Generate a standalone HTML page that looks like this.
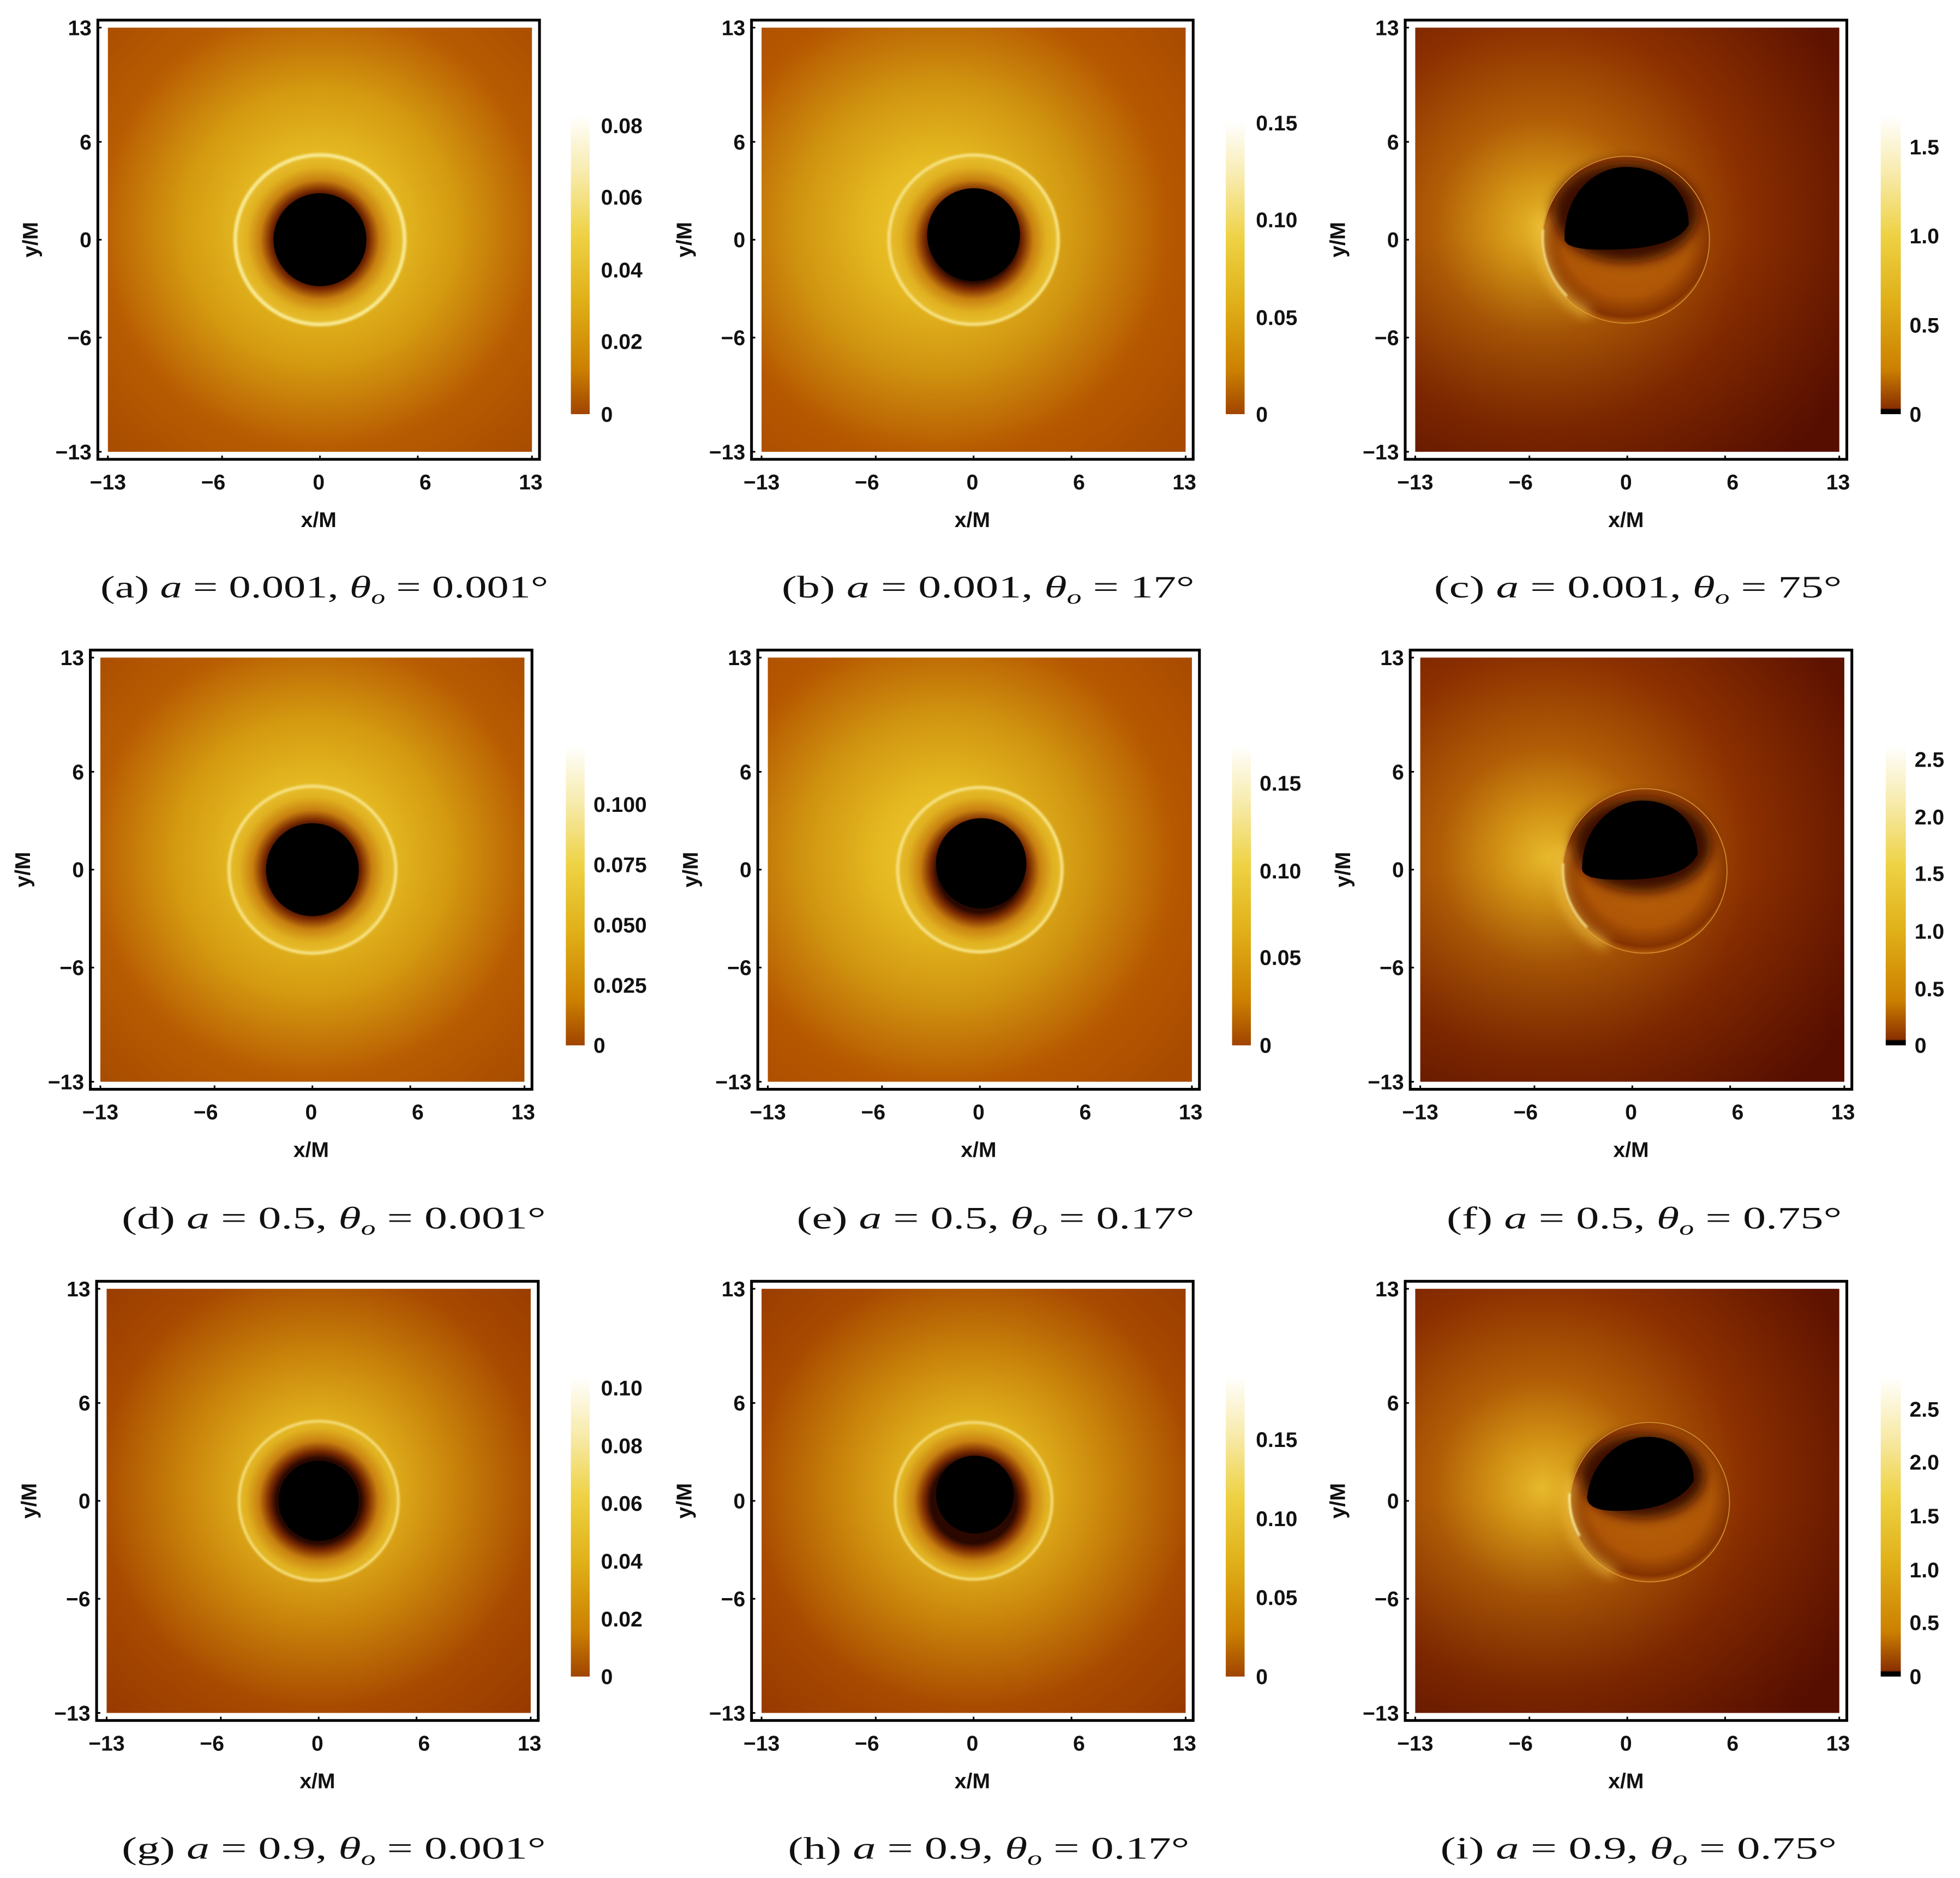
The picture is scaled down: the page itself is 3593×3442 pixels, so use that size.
<!DOCTYPE html>
<html><head><meta charset="utf-8"><style>
html,body{margin:0;padding:0;background:#fff;}
svg{display:block;}
.t{font-family:"Liberation Sans",sans-serif;font-weight:bold;font-size:17px;fill:#111;}
.c{font-family:"Liberation Serif",serif;font-size:25px;fill:#111;}
</style></head><body>
<svg width="3593" height="3442" viewBox="0 0 1562.2 1496.5" xmlns="http://www.w3.org/2000/svg">
<defs>
<radialGradient id="bgA" cx="0.5" cy="0.47" r="0.72">
<stop offset="0" stop-color="#f0c830"/><stop offset="0.22" stop-color="#e6bc24"/><stop offset="0.45" stop-color="#d49a10"/><stop offset="0.72" stop-color="#b85c02"/><stop offset="1" stop-color="#a84c00"/></radialGradient>
<radialGradient id="bgG" cx="0.5" cy="0.47" r="0.72">
<stop offset="0" stop-color="#ecc028"/><stop offset="0.2" stop-color="#e2b41e"/><stop offset="0.45" stop-color="#c8820a"/><stop offset="0.72" stop-color="#a84a00"/><stop offset="1" stop-color="#983a00"/></radialGradient>
<radialGradient id="bgB" cx="0.42" cy="0.47" r="0.75">
<stop offset="0" stop-color="#f0c830"/><stop offset="0.22" stop-color="#e4b820"/><stop offset="0.45" stop-color="#d09410"/><stop offset="0.72" stop-color="#b65800"/><stop offset="1" stop-color="#a84a00"/></radialGradient>
<radialGradient id="inA" gradientUnits="userSpaceOnUse" cx="0" cy="0" r="68">
<stop offset="0.5" stop-color="#2a0800"/><stop offset="0.58" stop-color="#7a2a00"/><stop offset="0.7" stop-color="#c88010"/><stop offset="0.85" stop-color="#e0b020"/><stop offset="1" stop-color="#e8c030"/></radialGradient>
<radialGradient id="bgD" cx="0.3" cy="0.47" r="0.8">
<stop offset="0" stop-color="#eabc2c"/><stop offset="0.14" stop-color="#d49414"/><stop offset="0.32" stop-color="#b25e06"/><stop offset="0.6" stop-color="#8c3000"/><stop offset="1" stop-color="#5e1200"/></radialGradient>
<linearGradient id="shade" x1="0" y1="0" x2="0" y2="1">
<stop offset="0" stop-color="#3a0000" stop-opacity="0"/><stop offset="0.5" stop-color="#3a0000" stop-opacity="0.02"/><stop offset="1" stop-color="#3a0000" stop-opacity="0.25"/></linearGradient>
<radialGradient id="disc" cx="0.5" cy="0.45" r="0.55">
<stop offset="0" stop-color="#bc6408"/><stop offset="0.7" stop-color="#ae5606"/><stop offset="0.92" stop-color="#843200"/><stop offset="1" stop-color="#b45c08"/></radialGradient>
<linearGradient id="cb" x1="0" y1="1" x2="0" y2="0">
<stop offset="0" stop-color="#a04400"/><stop offset="0.15" stop-color="#cc8000"/><stop offset="0.38" stop-color="#e0b018"/><stop offset="0.6" stop-color="#eed244"/><stop offset="0.8" stop-color="#f7eaa8"/><stop offset="1" stop-color="#ffffff"/></linearGradient>
<linearGradient id="cbd" x1="0" y1="1" x2="0" y2="0">
<stop offset="0" stop-color="#000"/><stop offset="0.015" stop-color="#000"/><stop offset="0.02" stop-color="#8a3000"/><stop offset="0.15" stop-color="#cc8000"/><stop offset="0.38" stop-color="#e0b018"/><stop offset="0.6" stop-color="#eed244"/><stop offset="0.8" stop-color="#f7eaa8"/><stop offset="1" stop-color="#ffffff"/></linearGradient>
<filter id="bl" x="-50%" y="-50%" width="200%" height="200%"><feGaussianBlur stdDeviation="5"/></filter>
<filter id="bl1" x="-50%" y="-50%" width="200%" height="200%"><feGaussianBlur stdDeviation="0.8"/></filter>
<g id="frame">
<rect x="-177" y="-175" width="352" height="350" fill="none" stroke="#000" stroke-width="2.2"/>
<path d="M-177,-169h3M-177,-78h3M-177,0h3M-177,78h3M-177,169h3M-169,175v-3M-78,175v-3M0,175v-3M78,175v-3M169,175v-3" stroke="#000" stroke-width="1.3"/>
<text class="t" x="-182" y="-163" text-anchor="end">13</text>
<text class="t" x="-182" y="-72" text-anchor="end">6</text>
<text class="t" x="-182" y="6" text-anchor="end">0</text>
<text class="t" x="-182" y="84" text-anchor="end">−6</text>
<text class="t" x="-182" y="175" text-anchor="end">−13</text>
<text class="t" x="-169" y="199" text-anchor="middle">−13</text>
<text class="t" x="-85" y="199" text-anchor="middle">−6</text>
<text class="t" x="-1" y="199" text-anchor="middle">0</text>
<text class="t" x="84" y="199" text-anchor="middle">6</text>
<text class="t" x="168" y="199" text-anchor="middle">13</text>
<text class="t" x="-1" y="229" text-anchor="middle">x/M</text>
<text class="t" transform="translate(-225,0) rotate(-90)" text-anchor="middle">y/M</text>
</g>
</defs>

<g transform="translate(255,191)">
<rect x="-169" y="-169" width="338" height="338" fill="url(#bgA)"/>
<circle r="68" fill="url(#inA)"/><circle r="37" fill="#000"/>
<circle r="67.5" fill="none" stroke="#f8e890" stroke-width="3" filter="url(#bl1)"/>
<use href="#frame"/>
</g>
<g transform="translate(776,191)">
<rect x="-169" y="-169" width="338" height="338" fill="url(#bgB)"/>
<circle r="68" fill="url(#inA)"/><circle cx="0" cy="-4" r="37" fill="#000"/>
<circle r="67.5" fill="none" stroke="#f6e080" stroke-width="2.6" filter="url(#bl1)"/>
<use href="#frame"/>
</g>
<g transform="translate(1297,191)">
<rect x="-169" y="-169" width="338" height="338" fill="url(#bgD)"/>
<rect x="-169" y="-169" width="338" height="338" fill="url(#shade)"/>
<circle cx="-1" cy="0" r="67" fill="url(#disc)"/>
<ellipse cx="-1" cy="-22" rx="58" ry="40" fill="#3a0800" filter="url(#bl)"/>
<path d="M-50,-1 C-50,-38 -25,-58 -1,-58 C27,-58 49,-40 49,-12 C40,4 12,8 -20,8 C-40,8 -50,5 -50,-1Z" fill="#000"/>
<circle cx="-1" cy="0" r="66.5" fill="none" stroke="#d08a30" stroke-width="0.8"/>
<path d="M-66,-20 A66.5,66.5 0 0 0 -30,59" fill="none" stroke="#f0c040" stroke-width="6" filter="url(#bl)"/>
<path d="M-67,-8 A66.5,66.5 0 0 0 -48,45" fill="none" stroke="#fff2a0" stroke-width="1.4" filter="url(#bl1)"/>
<use href="#frame"/>
</g>
<g transform="translate(249,693)">
<rect x="-169" y="-169" width="338" height="338" fill="url(#bgA)"/>
<circle r="67" fill="url(#inA)"/><circle r="37" fill="#000"/>
<circle r="66.5" fill="none" stroke="#f6e080" stroke-width="2.6" filter="url(#bl1)"/>
<use href="#frame"/>
</g>
<g transform="translate(781,693)">
<rect x="-169" y="-169" width="338" height="338" fill="url(#bgB)"/>
<circle r="66" fill="url(#inA)"/><circle cx="1" cy="-5" r="36" fill="#000"/>
<circle r="65.5" fill="none" stroke="#f6e080" stroke-width="2.6" filter="url(#bl1)"/>
<use href="#frame"/>
</g>
<g transform="translate(1301,693)">
<rect x="-169" y="-169" width="338" height="338" fill="url(#bgD)"/>
<rect x="-169" y="-169" width="338" height="338" fill="url(#shade)"/>
<circle cx="10" cy="1" r="66" fill="url(#disc)"/>
<ellipse cx="8" cy="-20" rx="55" ry="38" fill="#3a0800" filter="url(#bl)"/>
<path d="M-40,-1 C-40,-34 -15,-55 8,-55 C33,-55 52,-39 52,-12 C43,5 18,8 -12,8 C-31,8 -40,5 -40,-1Z" fill="#000"/>
<circle cx="10" cy="1" r="65.5" fill="none" stroke="#d08a30" stroke-width="0.8"/>
<path d="M-54,-20 A65.5,65.5 0 0 0 -20,60" fill="none" stroke="#f0c040" stroke-width="6" filter="url(#bl)"/>
<path d="M-55,-5 A65.5,65.5 0 0 0 -36,46" fill="none" stroke="#fff2a0" stroke-width="1.4" filter="url(#bl1)"/>
<use href="#frame"/>
</g>
<g transform="translate(254,1196)">
<rect x="-169" y="-169" width="338" height="338" fill="url(#bgG)"/>
<circle r="64" fill="url(#inA)"/><circle r="32" fill="#000"/>
<circle r="63.5" fill="none" stroke="#f4dc78" stroke-width="2.2" filter="url(#bl1)"/>
<use href="#frame"/>
</g>
<g transform="translate(776,1196)">
<rect x="-169" y="-169" width="338" height="338" fill="url(#bgG)"/>
<circle r="63" fill="url(#inA)"/><circle cx="1" cy="-5" r="31" fill="#000"/>
<circle r="62.5" fill="none" stroke="#f4dc78" stroke-width="2.2" filter="url(#bl1)"/>
<use href="#frame"/>
</g>
<g transform="translate(1297,1196)">
<rect x="-169" y="-169" width="338" height="338" fill="url(#bgD)"/>
<rect x="-169" y="-169" width="338" height="338" fill="url(#shade)"/>
<circle cx="18" cy="1" r="64" fill="url(#disc)"/>
<ellipse cx="12" cy="-20" rx="50" ry="34" fill="#3a0800" filter="url(#bl)"/>
<path d="M-32,-3 C-29,-32 -5,-51 16,-51 C39,-51 53,-37 53,-16 C43,1 20,8 -8,8 C-25,8 -32,4 -32,-3Z" fill="#000"/>
<circle cx="18" cy="1" r="63.5" fill="none" stroke="#d08a30" stroke-width="0.8"/>
<path d="M-44,-18 A63.5,63.5 0 0 0 -10,58" fill="none" stroke="#f0c040" stroke-width="6" filter="url(#bl)"/>
<path d="M-46,-6 A63.5,63.5 0 0 0 -38,28" fill="none" stroke="#fff6b0" stroke-width="1.6" filter="url(#bl1)"/>
<use href="#frame"/>
</g>

<g class="t">
<rect x="455" y="92" width="15" height="238" fill="url(#cb)"/>
<text x="479" y="106">0.08</text><text x="479" y="163">0.06</text><text x="479" y="221">0.04</text><text x="479" y="278">0.02</text><text x="479" y="336">0</text>
<rect x="977" y="97" width="15" height="233" fill="url(#cb)"/>
<text x="1001" y="104">0.15</text><text x="1001" y="181">0.10</text><text x="1001" y="259">0.05</text><text x="1001" y="336">0</text>
<rect x="1499" y="92" width="16" height="238" fill="url(#cbd)"/>
<text x="1522" y="123">1.5</text><text x="1522" y="194">1.0</text><text x="1522" y="265">0.5</text><text x="1522" y="336">0</text>
<rect x="451" y="594" width="15" height="239" fill="url(#cb)"/>
<text x="473" y="647">0.100</text><text x="473" y="695">0.075</text><text x="473" y="743">0.050</text><text x="473" y="791">0.025</text><text x="473" y="839">0</text>
<rect x="982" y="594" width="15" height="239" fill="url(#cb)"/>
<text x="1004" y="630">0.15</text><text x="1004" y="700">0.10</text><text x="1004" y="769">0.05</text><text x="1004" y="839">0</text>
<rect x="1503" y="594" width="16" height="239" fill="url(#cbd)"/>
<text x="1526" y="611">2.5</text><text x="1526" y="657">2.0</text><text x="1526" y="702">1.5</text><text x="1526" y="748">1.0</text><text x="1526" y="794">0.5</text><text x="1526" y="839">0</text>
<rect x="455" y="1097" width="15" height="239" fill="url(#cb)"/>
<text x="479" y="1112">0.10</text><text x="479" y="1158">0.08</text><text x="479" y="1204">0.06</text><text x="479" y="1250">0.04</text><text x="479" y="1296">0.02</text><text x="479" y="1342">0</text>
<rect x="977" y="1097" width="15" height="239" fill="url(#cb)"/>
<text x="1001" y="1153">0.15</text><text x="1001" y="1216">0.10</text><text x="1001" y="1279">0.05</text><text x="1001" y="1342">0</text>
<rect x="1499" y="1097" width="16" height="239" fill="url(#cbd)"/>
<text x="1522" y="1129">2.5</text><text x="1522" y="1171">2.0</text><text x="1522" y="1214">1.5</text><text x="1522" y="1257">1.0</text><text x="1522" y="1299">0.5</text><text x="1522" y="1342">0</text>
</g>

<g class="c">
<text x="80" y="476" textLength="357" lengthAdjust="spacingAndGlyphs">(a) <tspan font-style="italic">a</tspan> = 0.001, <tspan font-style="italic">θ</tspan><tspan font-style="italic" font-size="16" dy="5">o</tspan><tspan dy="-5"> = 0.001°</tspan></text>
<text x="623" y="476" textLength="329" lengthAdjust="spacingAndGlyphs">(b) <tspan font-style="italic">a</tspan> = 0.001, <tspan font-style="italic">θ</tspan><tspan font-style="italic" font-size="16" dy="5">o</tspan><tspan dy="-5"> = 17°</tspan></text>
<text x="1143" y="476" textLength="325" lengthAdjust="spacingAndGlyphs">(c) <tspan font-style="italic">a</tspan> = 0.001, <tspan font-style="italic">θ</tspan><tspan font-style="italic" font-size="16" dy="5">o</tspan><tspan dy="-5"> = 75°</tspan></text>
<text x="97" y="979" textLength="338" lengthAdjust="spacingAndGlyphs">(d) <tspan font-style="italic">a</tspan> = 0.5, <tspan font-style="italic">θ</tspan><tspan font-style="italic" font-size="16" dy="5">o</tspan><tspan dy="-5"> = 0.001°</tspan></text>
<text x="635" y="979" textLength="317" lengthAdjust="spacingAndGlyphs">(e) <tspan font-style="italic">a</tspan> = 0.5, <tspan font-style="italic">θ</tspan><tspan font-style="italic" font-size="16" dy="5">o</tspan><tspan dy="-5"> = 0.17°</tspan></text>
<text x="1153" y="979" textLength="315" lengthAdjust="spacingAndGlyphs">(f) <tspan font-style="italic">a</tspan> = 0.5, <tspan font-style="italic">θ</tspan><tspan font-style="italic" font-size="16" dy="5">o</tspan><tspan dy="-5"> = 0.75°</tspan></text>
<text x="97" y="1481" textLength="338" lengthAdjust="spacingAndGlyphs">(g) <tspan font-style="italic">a</tspan> = 0.9, <tspan font-style="italic">θ</tspan><tspan font-style="italic" font-size="16" dy="5">o</tspan><tspan dy="-5"> = 0.001°</tspan></text>
<text x="628" y="1481" textLength="320" lengthAdjust="spacingAndGlyphs">(h) <tspan font-style="italic">a</tspan> = 0.9, <tspan font-style="italic">θ</tspan><tspan font-style="italic" font-size="16" dy="5">o</tspan><tspan dy="-5"> = 0.17°</tspan></text>
<text x="1148" y="1481" textLength="316" lengthAdjust="spacingAndGlyphs">(i) <tspan font-style="italic">a</tspan> = 0.9, <tspan font-style="italic">θ</tspan><tspan font-style="italic" font-size="16" dy="5">o</tspan><tspan dy="-5"> = 0.75°</tspan></text>
</g>
</svg>
</body></html>
